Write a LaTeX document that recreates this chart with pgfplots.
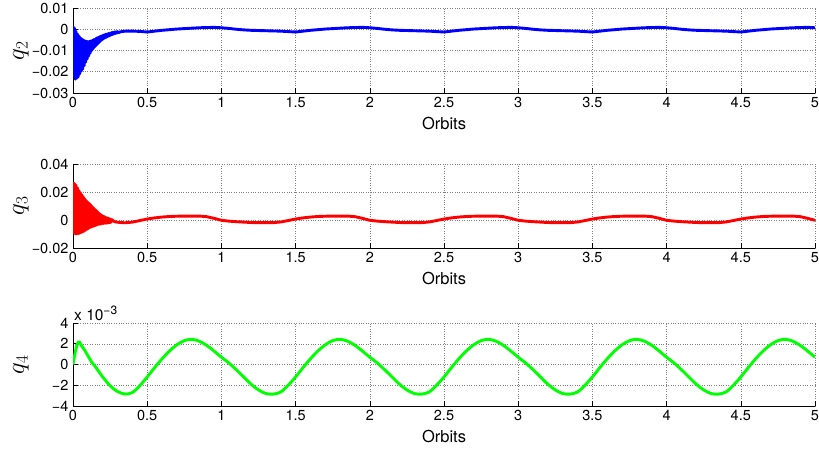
\documentclass[border=0pt]{standalone}
\usepackage{pgfplots}
\pgfplotsset{compat=1.18}
\usepackage{fontspec}
\setmainfont{TeX Gyre Heros}

\pgfplotsset{
  matstyle/.style={
    scale only axis, width=742pt,
    xmin=0, xmax=5,
    clip mode=individual,
    axis x line*=bottom, axis y line*=left,
    axis line style={line width=0.8pt},
    tick align=inside, major tick length=5pt,
    tick style={black, line width=0.6pt},
    xtick={0,0.5,1,1.5,2,2.5,3,3.5,4,4.5,5},
    xticklabels={0,0.5,1,1.5,2,2.5,3,3.5,4,4.5,5},
    scaled y ticks=false,
    grid=major, grid style={dotted, black!50, line width=0.5pt},
    tick label style={font=\fontsize{14.5}{14.5}\selectfont},
    xticklabel style={yshift=-1pt},
    yticklabel style={xshift=-1pt},
    xlabel={Orbits},
    xlabel style={font=\fontsize{16.5}{16.5}\selectfont, at={(axis description cs:0.5,0)}, anchor=center, yshift=-30pt},
    ylabel style={font=\fontsize{26}{26}\selectfont, at={(axis description cs:-0.07,0.5)}, anchor=center},
  }
}

\begin{document}
\begin{tikzpicture}
\path[use as bounding box] (0,0) rectangle (819pt,450pt);

% q2
\begin{axis}[matstyle, at={(73pt,357pt)}, anchor=south west, height=85pt,
  ymin=-0.03, ymax=0.01,
  ytick={-0.03,-0.02,-0.01,0,0.01},
  yticklabels={−0.03,−0.02,−0.01,0,0.01},
  ylabel={$q_2$}]
\addplot[blue, line width=2.9pt, line join=round] coordinates {
(0,0.0015)(0.005,-0.022)(0.01,0.0005)(0.015,-0.0235)(0.02,-0.001)(0.025,-0.023)(0.03,-0.0022)(0.035,-0.0225)(0.04,-0.0032)(0.045,-0.021)
(0.05,-0.004)(0.055,-0.0198)(0.06,-0.0046)(0.065,-0.0188)(0.07,-0.005)(0.075,-0.0172)(0.08,-0.0054)(0.085,-0.0155)(0.09,-0.0056)(0.095,-0.014)
(0.1,-0.0058)(0.105,-0.0126)(0.11,-0.0057)(0.115,-0.0113)(0.12,-0.0055)(0.125,-0.0101)(0.13,-0.0052)(0.135,-0.0092)(0.14,-0.0049)(0.145,-0.0084)
(0.15,-0.0045)(0.155,-0.0077)(0.16,-0.0041)(0.165,-0.007)(0.17,-0.0038)(0.175,-0.0063)(0.18,-0.0035)(0.185,-0.0056)(0.19,-0.0032)(0.195,-0.005)
(0.2,-0.0029)(0.205,-0.0045)(0.21,-0.0026)(0.215,-0.0041)(0.22,-0.0024)(0.225,-0.0038)(0.23,-0.0022)(0.235,-0.0034)(0.24,-0.002)(0.245,-0.0031)
(0.25,-0.0018)(0.255,-0.0028)(0.26,-0.0016)(0.265,-0.0025)(0.27,-0.0014)(0.275,-0.0022)(0.28,-0.0013)(0.285,-0.002)(0.29,-0.0012)(0.295,-0.0018)
(0.3,-0.0011)(0.305,-0.0016)
(0.32,-0.0012)(0.35,-0.0009)(0.4,-0.0009)(0.45,-0.001)(0.5,-0.0013)(0.55,-0.0009)(0.6,-0.0005)(0.65,-0.0002)(0.7,0.0001)(0.75,0.0003)(0.8,0.0005)(0.85,0.0007)(0.9,0.0008)(0.95,0.0009)(1,0.0007)
(1.05,0.0004)(1.1,0)(1.15,-0.0003)(1.2,-0.0005)(1.25,-0.0006)(1.3,-0.0007)(1.35,-0.0008)(1.4,-0.0009)(1.45,-0.0011)(1.5,-0.0013)(1.55,-0.0009)(1.6,-0.0005)(1.65,-0.0002)(1.7,0.0001)(1.75,0.0003)(1.8,0.0005)(1.85,0.0007)(1.9,0.0008)(1.95,0.0009)(2,0.0007)
(2.05,0.0004)(2.1,0)(2.15,-0.0003)(2.2,-0.0005)(2.25,-0.0006)(2.3,-0.0007)(2.35,-0.0008)(2.4,-0.0009)(2.45,-0.0011)(2.5,-0.0013)(2.55,-0.0009)(2.6,-0.0005)(2.65,-0.0002)(2.7,0.0001)(2.75,0.0003)(2.8,0.0005)(2.85,0.0007)(2.9,0.0008)(2.95,0.0009)(3,0.0007)
(3.05,0.0004)(3.1,0)(3.15,-0.0003)(3.2,-0.0005)(3.25,-0.0006)(3.3,-0.0007)(3.35,-0.0008)(3.4,-0.0009)(3.45,-0.0011)(3.5,-0.0013)(3.55,-0.0009)(3.6,-0.0005)(3.65,-0.0002)(3.7,0.0001)(3.75,0.0003)(3.8,0.0005)(3.85,0.0007)(3.9,0.0008)(3.95,0.0009)(4,0.0007)
(4.05,0.0004)(4.1,0)(4.15,-0.0003)(4.2,-0.0005)(4.25,-0.0006)(4.3,-0.0007)(4.35,-0.0008)(4.4,-0.0009)(4.45,-0.0011)(4.5,-0.0013)(4.55,-0.0009)(4.6,-0.0005)(4.65,-0.0002)(4.7,0.0001)(4.75,0.0003)(4.8,0.0005)(4.85,0.0007)(4.9,0.0008)(4.95,0.0009)(5,0.0007)
};
\end{axis}

% q3
\begin{axis}[matstyle, at={(73pt,202pt)}, anchor=south west, height=84pt,
  ymin=-0.02, ymax=0.04,
  ytick={-0.02,0,0.02,0.04},
  yticklabels={−0.02,0,0.02,0.04},
  ylabel={$q_3$}]
\addplot[red, line width=2.9pt, line join=round] coordinates {
(0,0.027)(0.005,-0.009)(0.01,0.026)(0.015,-0.01)(0.02,0.025)(0.025,-0.01)(0.03,0.023)(0.035,-0.0098)(0.04,0.021)(0.045,-0.0095)
(0.05,0.0195)(0.055,-0.009)(0.06,0.018)(0.065,-0.0085)(0.07,0.0165)(0.075,-0.008)(0.08,0.015)(0.085,-0.0073)(0.09,0.0138)(0.095,-0.0067)
(0.1,0.0128)(0.105,-0.006)(0.11,0.0118)(0.115,-0.0055)(0.12,0.0108)(0.125,-0.005)(0.13,0.0095)(0.135,-0.0046)(0.14,0.0085)(0.145,-0.0042)
(0.15,0.0075)(0.155,-0.0038)(0.16,0.0065)(0.165,-0.0034)(0.17,0.0055)(0.175,-0.0031)(0.18,0.0045)(0.185,-0.0029)(0.19,0.0037)(0.195,-0.0027)
(0.2,0.003)(0.205,-0.0025)(0.21,0.0025)(0.215,-0.0024)(0.22,0.002)(0.225,-0.0023)(0.23,0.0016)(0.235,-0.0021)(0.24,0.0012)(0.245,-0.0019)
(0.25,0.0008)(0.255,-0.0017)(0.26,0.0003)
(0.28,-0.0012)(0.3,-0.0016)(0.35,-0.002)(0.4,-0.0015)(0.45,-0.0004)(0.5,0.0007)(0.55,0.0015)(0.6,0.0021)(0.65,0.0025)(0.7,0.0027)(0.75,0.0028)(0.8,0.0028)(0.85,0.0028)(0.9,0.0024)(0.95,0.0012)(1,-0.0002)
(1.05,-0.0008)(1.1,-0.0012)(1.15,-0.0015)(1.2,-0.0018)(1.25,-0.0019)(1.3,-0.0019)(1.35,-0.0019)(1.4,-0.0014)(1.45,-0.0004)(1.5,0.0007)(1.55,0.0015)(1.6,0.0021)(1.65,0.0025)(1.7,0.0027)(1.75,0.0028)(1.8,0.0028)(1.85,0.0028)(1.9,0.0024)(1.95,0.0012)(2,-0.0002)
(2.05,-0.0008)(2.1,-0.0012)(2.15,-0.0015)(2.2,-0.0018)(2.25,-0.0019)(2.3,-0.0019)(2.35,-0.0019)(2.4,-0.0014)(2.45,-0.0004)(2.5,0.0007)(2.55,0.0015)(2.6,0.0021)(2.65,0.0025)(2.7,0.0027)(2.75,0.0028)(2.8,0.0028)(2.85,0.0028)(2.9,0.0024)(2.95,0.0012)(3,-0.0002)
(3.05,-0.0008)(3.1,-0.0012)(3.15,-0.0015)(3.2,-0.0018)(3.25,-0.0019)(3.3,-0.0019)(3.35,-0.0019)(3.4,-0.0014)(3.45,-0.0004)(3.5,0.0007)(3.55,0.0015)(3.6,0.0021)(3.65,0.0025)(3.7,0.0027)(3.75,0.0028)(3.8,0.0028)(3.85,0.0028)(3.9,0.0024)(3.95,0.0012)(4,-0.0002)
(4.05,-0.0008)(4.1,-0.0012)(4.15,-0.0015)(4.2,-0.0018)(4.25,-0.0019)(4.3,-0.0019)(4.35,-0.0019)(4.4,-0.0014)(4.45,-0.0004)(4.5,0.0007)(4.55,0.0015)(4.6,0.0021)(4.65,0.0025)(4.7,0.0027)(4.75,0.0028)(4.8,0.0028)(4.85,0.0028)(4.9,0.0024)(4.95,0.0012)(5,-0.0002)
};
\end{axis}

% q4 (values in units of 10^-3)
\begin{axis}[matstyle, at={(73pt,44pt)}, anchor=south west, height=83pt,
  ymin=-4, ymax=4,
  ytick={-4,-2,0,2,4},
  yticklabels={−4,−2,0,2,4},
  ylabel={$q_4$}]
\addplot[green, line width=2.9pt, line join=round, smooth, tension=0.5] coordinates {
(0,0)(0.01,0.8)(0.02,1.5)(0.03,2.0)(0.04,2.2)(0.05,2.0)(0.06,1.75)(0.08,1.35)(0.1,0.85)(0.125,0.25)(0.15,-0.2)(0.175,-0.7)(0.2,-1.2)(0.25,-2.05)(0.3,-2.6)(0.35,-2.85)(0.4,-2.7)(0.45,-2.05)(0.5,-1.2)(0.55,-0.3)(0.6,0.55)(0.65,1.3)(0.7,1.9)(0.75,2.3)(0.8,2.43)(0.85,2.25)(0.9,1.85)(0.95,1.3)(1,0.7)
(1.05,0.15)(1.1,-0.5)(1.15,-1.2)(1.2,-1.9)(1.25,-2.45)(1.3,-2.8)(1.35,-2.85)(1.4,-2.65)(1.45,-2.0)(1.5,-1.2)(1.55,-0.3)(1.6,0.55)(1.65,1.3)(1.7,1.9)(1.75,2.3)(1.8,2.43)(1.85,2.25)(1.9,1.85)(1.95,1.3)(2,0.7)
(2.05,0.15)(2.1,-0.5)(2.15,-1.2)(2.2,-1.9)(2.25,-2.45)(2.3,-2.8)(2.35,-2.85)(2.4,-2.65)(2.45,-2.0)(2.5,-1.2)(2.55,-0.3)(2.6,0.55)(2.65,1.3)(2.7,1.9)(2.75,2.3)(2.8,2.43)(2.85,2.25)(2.9,1.85)(2.95,1.3)(3,0.7)
(3.05,0.15)(3.1,-0.5)(3.15,-1.2)(3.2,-1.9)(3.25,-2.45)(3.3,-2.8)(3.35,-2.85)(3.4,-2.65)(3.45,-2.0)(3.5,-1.2)(3.55,-0.3)(3.6,0.55)(3.65,1.3)(3.7,1.9)(3.75,2.3)(3.8,2.43)(3.85,2.25)(3.9,1.85)(3.95,1.3)(4,0.7)
(4.05,0.15)(4.1,-0.5)(4.15,-1.2)(4.2,-1.9)(4.25,-2.45)(4.3,-2.8)(4.35,-2.85)(4.4,-2.65)(4.45,-2.0)(4.5,-1.2)(4.55,-0.3)(4.6,0.55)(4.65,1.3)(4.7,1.9)(4.75,2.3)(4.8,2.43)(4.85,2.25)(4.9,1.85)(4.95,1.3)(5,0.7)
};
\end{axis}
\node[anchor=south west, inner sep=0pt, font=\fontsize{15.5}{15.5}\selectfont] at (74pt,129pt) {x 10\raisebox{6pt}{\fontsize{12}{12}\selectfont −3}};
\end{tikzpicture}
\end{document}
